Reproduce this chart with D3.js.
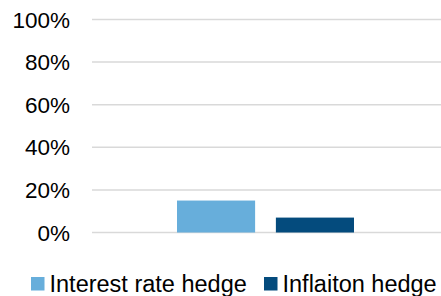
<!DOCTYPE html>
<html>
<head>
<meta charset="utf-8">
<script src="https://cdn.jsdelivr.net/npm/d3@7.9.0/dist/d3.min.js"></script>
<style>
  body { margin: 0; background: #fff; }
  text { font-family: "Liberation Sans", Arial, sans-serif; fill: #000; }
</style>
</head>
<body>
<svg width="441" height="296"></svg>
<script>
// data
const categories = [""];
const seriesNames = ["Interest rate hedge", "Inflaiton hedge"];
const seriesValues = [0.15, 0.07];
const seriesColors = ["#67aedb", "#044b7d"];
const yTicks = [0, 0.2, 0.4, 0.6, 0.8, 1.0];

const svg = d3.select("svg");
const plotLeft = 92, plotRight = 441, plotTop = 19.5, plotBottom = 232.5;

let y = d3.scaleLinear().domain([0, 1]).range([plotBottom, plotTop]);
let x0 = d3.scaleBand().domain(categories).range([plotLeft, plotRight]);
let x1 = d3.scaleBand().domain(seriesNames)
  .range([x0("") + 85, x0("") + x0.bandwidth() - 87])
  .paddingInner(0.21);

// gridlines
svg.append("g").selectAll("line").data(yTicks).join("line")
  .attr("x1", plotLeft).attr("x2", plotRight)
  .attr("y1", d => y(d)).attr("y2", d => y(d))
  .attr("stroke", "#d9d9d9").attr("stroke-width", 1.5);

// y labels
svg.append("g").selectAll("text").data(yTicks).join("text")
  .attr("x", 70).attr("y", d => y(d) + 8)
  .attr("text-anchor", "end")
  .attr("font-size", 22.5)
  .text(d3.format(".0%"));

// bars
svg.append("g").selectAll("rect").data(seriesValues).join("rect")
  .attr("x", (d, i) => x1(seriesNames[i]))
  .attr("width", x1.bandwidth())
  .attr("y", d => y(d))
  .attr("height", d => y(0) - y(d))
  .attr("fill", (d, i) => seriesColors[i]);

// legend
const legendX = [31, 264];
const legend = svg.append("g");
seriesNames.forEach((name, i) => {
  legend.append("rect")
    .attr("x", legendX[i]).attr("y", 277)
    .attr("width", 13.5).attr("height", 13.5)
    .attr("fill", seriesColors[i]);
  legend.append("text")
    .attr("x", legendX[i] + 18.5).attr("y", 291.5)
    .attr("font-size", 23.5)
    .text(name);
});
</script>
</body>
</html>
